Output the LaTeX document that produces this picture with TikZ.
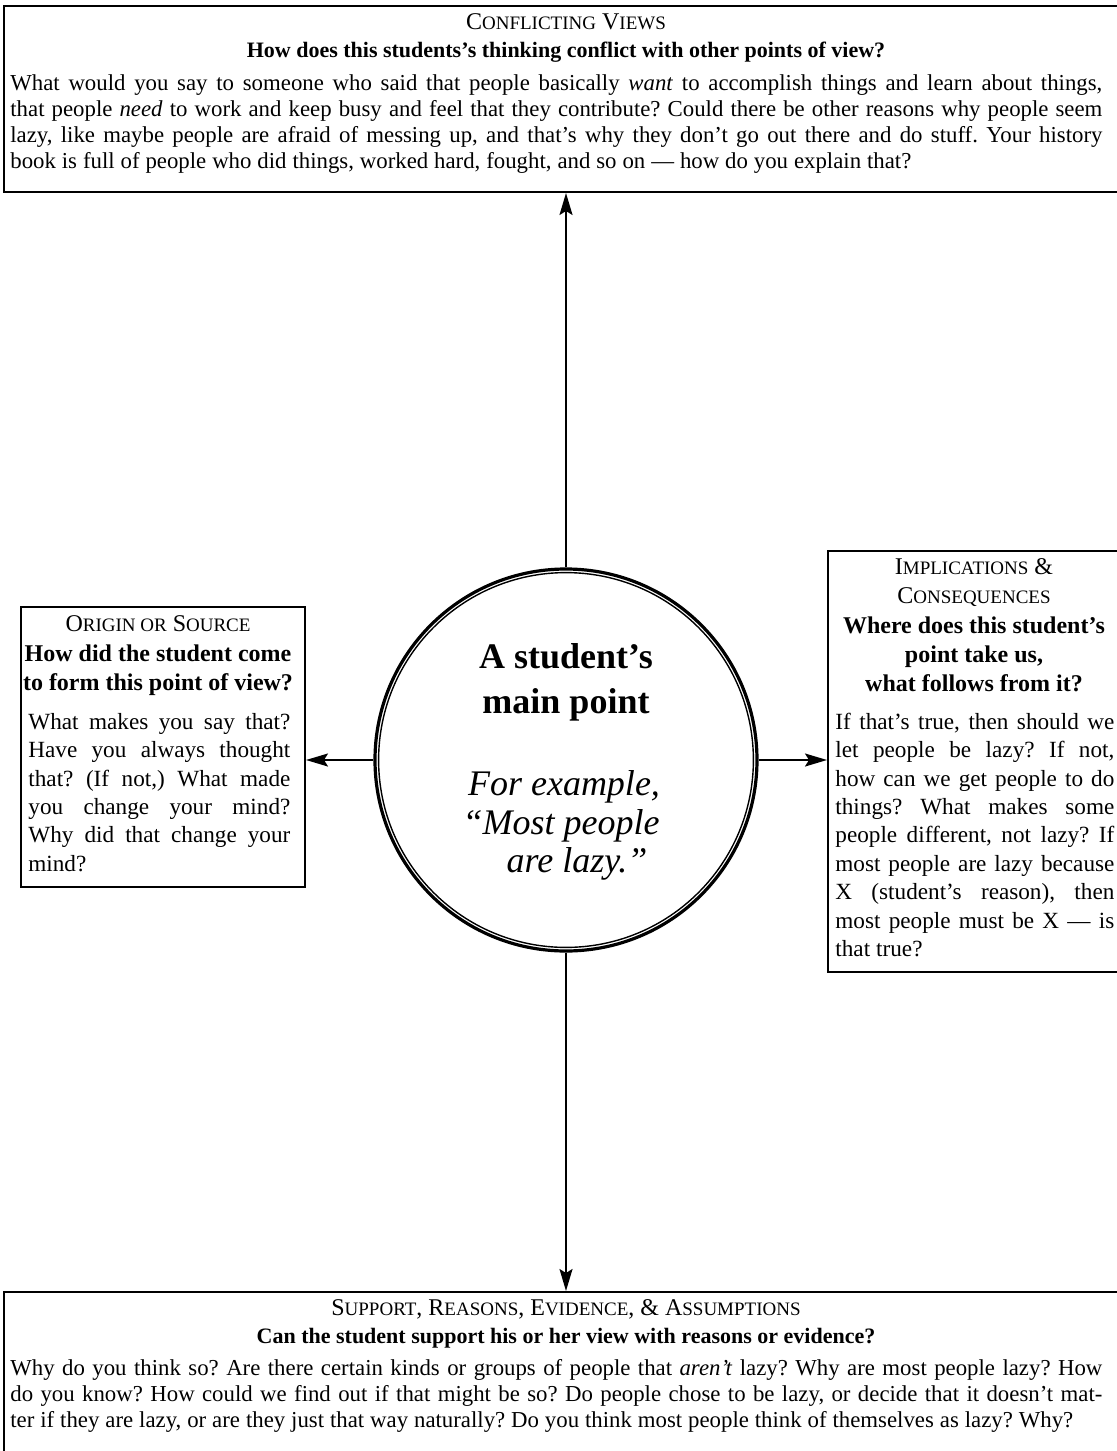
\documentclass[tikz,border=0pt]{standalone}
\usepackage{fontspec}
\setmainfont{Liberation Serif}
\usetikzlibrary{arrows.meta,calc}

% stretchable interword space for the justified lines
\newcommand\wordgap{\frenchspacing\spaceskip=0.26em plus 0.8em minus 0.07em\relax}
% one justified line of a text block, and a final (ragged) line
\newcommand\fullln[1]{\hbox to \linewidth{\wordgap\strut#1}}
\newcommand\lastln[1]{\hbox to \linewidth{\wordgap\strut#1\hfil}}
% a stack of such lines
\newcommand\lines[1]{\vbox{#1}}
% reduced capitals for the small-caps headings
\newcommand\smc[1]{{\fontsize{9.5}{9.5}\selectfont #1}}

\begin{document}
\begin{tikzpicture}[x=0.5pt,y=-0.5pt,
  frame/.style={draw, line width=1pt, rectangle, inner sep=0pt, anchor=north west},
  link/.style={line width=0.9pt, -{Stealth[length=11pt,width=6.5pt,inset=2pt]}},
  sctitle/.style={anchor=base, inner sep=0pt, font=\fontsize{12}{12}\selectfont},
  qtitle/.style={anchor=base, inner sep=0pt, font=\bfseries\fontsize{11}{12}\selectfont},
  sqtitle/.style={anchor=base, inner sep=0pt, font=\bfseries\fontsize{12}{12}\selectfont},
  widebody/.style={anchor=north west, inner sep=0pt, text width=546pt, font=\fontsize{11.4}{13}\selectfont},
  sidebody/.style={anchor=north west, inner sep=0pt, font=\fontsize{11.6}{14.2}\selectfont},
  pointtext/.style={anchor=base, inner sep=0pt, font=\bfseries\fontsize{18}{18}\selectfont},
  exampletext/.style={anchor=base, inner sep=0pt, font=\itshape\fontsize{18}{18}\selectfont},
]
\useasboundingbox (0,0) rectangle (1117,1451);

% ---- frames ----
\node[frame, minimum width=563.5pt, minimum height=93pt] (views) at (3,5) {};
\node[frame, minimum width=142pt, minimum height=140pt] (origin) at (20,606) {};
\node[frame, minimum width=152pt, minimum height=210.5pt] (implic) at (827,550) {};
\node[frame, minimum width=563.5pt, minimum height=95pt] (support) at (3,1291) {};

% ---- central circle ----
\node[circle, draw, line width=1.6pt, minimum size=191pt, inner sep=0pt] (point) at (566,760) {};
\draw[line width=0.7pt] (point.center) circle[radius=93.7pt];

\node[pointtext] (pt1) at (566,668) {A student’s};
\node[pointtext] (pt2) at (566,713) {main point};
\node[exampletext] (ex1) at (564,795) {For example,};
\node[exampletext] (ex2) at (561,834) {“Most people};
\node[exampletext] (ex3) at (577,872) {are lazy.”};

% ---- connectors ----
\draw[link] (point.north) -- (point.north |- views.south);
\draw[link] (point.south) -- (point.south |- support.north);
\draw[link] (point.west) -- (point.west -| origin.east);
\draw[link] (point.east) -- (point.east -| implic.west);

% ---- conflicting views ----
\node[sctitle] (viewsT) at (566,29) {C\smc{ONFLICTING} V\smc{IEWS}};
\node[qtitle] (viewsQ) at (566,57) {How does this students’s thinking conflict with other points of view?};
\node[widebody] (viewsB) at (10,72) {\lines{%
\fullln{What would you say to someone who said that people basically \emph{want} to accomplish things and learn about things,}%
\fullln{that people \emph{need} to work and keep busy and feel that they contribute? Could there be other reasons why people seem}%
\fullln{lazy, like maybe people are afraid of messing up, and that’s why they don’t go out there and do stuff. Your history}%
\lastln{book is full of people who did things, worked hard, fought, and so on — how do you explain that?}}};

% ---- origin or source ----
\node[sctitle] (originT) at (158,631) {O\smc{RIGIN OR} S\smc{OURCE}};
\node[sqtitle] (originQ1) at (158,661) {How did the student come};
\node[sqtitle] (originQ2) at (158,690) {to form this point of view?};
\node[sidebody, text width=131pt] (originB) at (28,709) {\lines{%
\fullln{What makes you say that?}%
\fullln{Have you always thought}%
\fullln{that? (If not,) What made}%
\fullln{you change your mind?}%
\fullln{Why did that change your}%
\lastln{mind?}}};

% ---- implications & consequences ----
\node[sctitle] (implicT1) at (974,574) {I\smc{MPLICATIONS} \&};
\node[sctitle] (implicT2) at (974,603) {C\smc{ONSEQUENCES}};
\node[sqtitle] (implicQ1) at (974,633) {Where does this student’s};
\node[sqtitle] (implicQ2) at (974,662) {point take us,};
\node[sqtitle] (implicQ3) at (974,691) {what follows from it?};
\node[sidebody, text width=139.5pt] (implicB) at (835,709) {\lines{%
\fullln{If that’s true, then should we}%
\fullln{let people be lazy? If not,}%
\fullln{how can we get people to do}%
\fullln{things? What makes some}%
\fullln{people different, not lazy? If}%
\fullln{most people are lazy because}%
\fullln{X (student’s reason), then}%
\fullln{most people must be X — is}%
\lastln{that true?}}};

% ---- support, reasons, evidence ----
\node[sctitle] (supportT) at (566,1315) {S\smc{UPPORT}, R\smc{EASONS}, E\smc{VIDENCE}, \& A\smc{SSUMPTIONS}};
\node[qtitle] (supportQ) at (566,1343) {Can the student support his or her view with reasons or evidence?};
\node[widebody] (supportB) at (10,1357) {\lines{%
\fullln{Why do you think so? Are there certain kinds or groups of people that \emph{aren’t} lazy? Why are most people lazy? How}%
\fullln{do you know? How could we find out if that might be so? Do people chose to be lazy, or decide that it doesn’t mat-}%
\lastln{ter if they are lazy, or are they just that way naturally? Do you think most people think of themselves as lazy? Why?}}};
\end{tikzpicture}
\end{document}
